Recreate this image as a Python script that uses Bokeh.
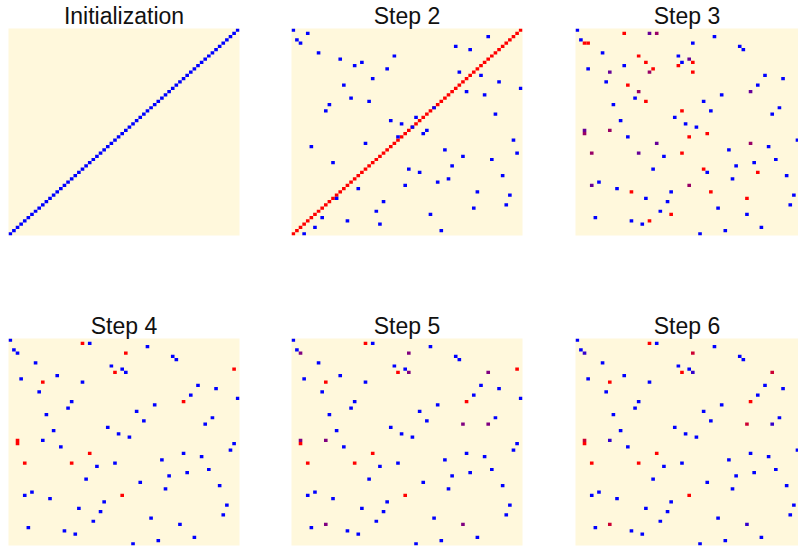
from bokeh.plotting import figure
from bokeh.models import Range1d
from bokeh.layouts import column, row
from bokeh.embed import file_html
from bokeh.resources import INLINE

N = 64
BG = "#FFF8DC"
BLUE = "#0000FF"
RED = "#FF0000"
MIX3_B = "#660099"
MIX3_R = "#990066"
MIX5 = "#800080"
MIX6_B = "#3300CC"
MIX6_R = "#CC0033"

TITLES = ["Initialization", "Step 2", "Step 3", "Step 4", "Step 5", "Step 6"]

# row index counted from the top of each panel, column index from the left
ALL_ROWS = [0, 1, 2, 3, 4, 5, 6, 7, 8, 9, 10, 11, 12, 13, 14, 15, 16, 17, 18, 19, 20, 21,
            22, 23, 24, 25, 26, 27, 28, 29, 30, 31, 32, 33, 34, 35, 36, 37, 38, 39, 40, 41,
            42, 43, 44, 45, 46, 47, 48, 49, 50, 51, 52, 53, 54, 55, 56, 57, 58, 59, 60, 61,
            62, 63]

INIT_BLUE_COLS = [63, 62, 61, 60, 59, 58, 57, 56, 55, 54, 53, 52, 51, 50, 49, 48, 47, 46,
                  45, 44, 43, 42, 41, 40, 39, 38, 37, 36, 35, 34, 33, 32, 31, 30, 29, 28,
                  27, 26, 25, 24, 23, 22, 21, 20, 19, 18, 17, 16, 15, 14, 13, 12, 11, 10,
                  9, 8, 7, 6, 5, 4, 3, 2, 1, 0]

STEP2_RED_COLS = [63, 62, 61, 60, 59, 58, 57, 56, 55, 54, 53, 52, 51, 50, 49, 48, 47, 46,
                  45, 44, 43, 42, 41, 40, 39, 38, 37, 36, 35, 34, 33, 32, 31, 30, 29, 28,
                  27, 26, 25, 24, 23, 22, 21, 20, 19, 18, 17, 16, 15, 14, 13, 12, 11, 10,
                  9, 8, 7, 6, 5, 4, 3, 2, 1, 0]
STEP2_BLUE_COLS = [0, 4, 54, 1, 2, 45, 49, 7, 28, 13, 19, 17, 26, 46, 52, 22, 57, 14, 63,
                   48, 53, 16, 21, 10, 39, 9, 56, 34, 27, 30, 33, 37, 36, 29, 61, 20, 5, 42,
                   62, 47, 55, 11, 44, 32, 35, 58, 43, 40, 31, 18, 51, 60, 12, 25, 59, 50,
                   23, 38, 8, 15, 24, 6, 41, 3]

STEP3_BLUE_ROWS = [0, 2, 3, 4, 5, 6, 7, 8, 10, 11, 12, 14, 15, 16, 17, 18, 20, 21, 22, 23,
                   24, 25, 26, 27, 28, 29, 30, 32, 33, 34, 36, 37, 39, 40, 41, 42, 43, 44,
                   45, 46, 47, 49, 50, 51, 52, 53, 54, 55, 56, 57, 58, 59, 60, 61, 62, 63]
STEP3_BLUE_COLS = [0, 38, 1, 32, 45, 46, 7, 28, 29, 13, 3, 52, 57, 8, 50, 63, 40, 16, 35,
                   10, 56, 37, 54, 27, 12, 30, 33, 62, 14, 61, 53, 42, 24, 55, 49, 44, 21,
                   36, 58, 43, 6, 11, 26, 60, 19, 25, 59, 39, 23, 47, 5, 15, 18, 51, 41, 34]
STEP3_RED_ROWS = [1, 4, 4, 8, 10, 10, 11, 12, 13, 17, 22, 25, 32, 33, 38, 43, 44, 50, 50,
                  52, 57, 59]
STEP3_RED_COLS = [13, 2, 3, 17, 19, 32, 28, 21, 32, 14, 19, 29, 36, 31, 29, 35, 50, 15, 37,
                  47, 26, 20]
STEP3_MIXB_ROWS = [1, 9, 13, 19, 31, 35, 38, 48]
STEP3_MIXB_COLS = [20, 31, 9, 48, 2, 22, 17, 4]
STEP3_MIXR_ROWS = [1, 13, 19, 31, 32, 35, 38, 48]
STEP3_MIXR_COLS = [22, 20, 17, 9, 2, 48, 4, 31]

STEP4_BLUE_COLS = [0, 22, 38, 1, 2, 45, 46, 7, 28, 31, 32, 13, 3, 20, 52, 57, 8, 50, 63,
                   17, 40, 16, 35, 10, 56, 37, 54, 27, 12, 30, 33, 9, 62, 14, 61, 48, 53,
                   42, 29, 24, 55, 49, 44, 21, 36, 58, 43, 6, 4, 11, 26, 60, 19, 25, 59, 39,
                   23, 47, 5, 15, 18, 51, 41, 34]
STEP4_RED_ROWS = [1, 4, 9, 10, 13, 19, 31, 32, 35, 38, 38, 48]
STEP4_RED_COLS = [20, 32, 62, 29, 9, 48, 2, 2, 22, 4, 17, 31]

STEP5_BLUE_ROWS = [0, 1, 2, 3, 5, 6, 7, 8, 9, 11, 12, 13, 14, 15, 16, 17, 18, 19, 20, 21,
                   22, 23, 24, 25, 27, 28, 29, 30, 32, 33, 34, 35, 36, 37, 38, 39, 40, 41,
                   42, 43, 44, 45, 46, 47, 48, 49, 50, 51, 52, 53, 54, 55, 56, 58, 59, 60,
                   61, 62, 63]
STEP5_BLUE_COLS = [0, 22, 38, 1, 45, 46, 7, 28, 31, 13, 3, 20, 52, 57, 8, 50, 63, 17, 40,
                   16, 35, 10, 56, 37, 27, 12, 30, 33, 62, 14, 61, 48, 53, 42, 29, 24, 55,
                   49, 44, 21, 36, 58, 43, 6, 4, 11, 26, 60, 19, 25, 59, 39, 23, 5, 15, 18,
                   51, 41, 34]
STEP5_RED_ROWS = [1, 9, 10, 13, 19, 32, 35, 38, 38, 48]
STEP5_RED_COLS = [20, 62, 29, 9, 48, 2, 22, 4, 17, 31]
STEP5_MIX_ROWS = [4, 4, 10, 10, 26, 26, 31, 31, 57, 57]
STEP5_MIX_COLS = [2, 32, 32, 54, 47, 54, 2, 9, 9, 47]

STEP6_BLUE_ROWS = [0, 1, 2, 3, 5, 6, 7, 8, 9, 11, 12, 13, 14, 15, 16, 17, 18, 19, 20, 21,
                   22, 23, 24, 25, 27, 28, 29, 30, 32, 33, 34, 35, 36, 37, 38, 39, 40, 41,
                   42, 43, 44, 45, 46, 47, 48, 49, 50, 51, 52, 53, 54, 55, 56, 58, 59, 60,
                   61, 62, 63]
STEP6_BLUE_COLS = [0, 22, 38, 1, 45, 46, 7, 28, 31, 13, 3, 20, 52, 57, 8, 50, 63, 17, 40,
                   16, 35, 10, 56, 37, 27, 12, 30, 33, 62, 14, 61, 48, 53, 42, 29, 24, 55,
                   49, 44, 21, 36, 58, 43, 6, 4, 11, 26, 60, 19, 25, 59, 39, 23, 5, 15, 18,
                   51, 41, 34]
STEP6_RED_ROWS = [1, 9, 10, 13, 19, 32, 35, 38, 38, 48]
STEP6_RED_COLS = [20, 62, 29, 9, 48, 2, 22, 4, 17, 31]
STEP6_MIXB_ROWS = [4, 10, 26, 31, 57]
STEP6_MIXB_COLS = [2, 32, 54, 9, 47]
STEP6_MIXR_ROWS = [4, 10, 26, 31, 57]
STEP6_MIXR_COLS = [32, 54, 47, 2, 9]

LAYERS = [
    [(ALL_ROWS, INIT_BLUE_COLS, BLUE)],
    [(ALL_ROWS, STEP2_RED_COLS, RED), (ALL_ROWS, STEP2_BLUE_COLS, BLUE)],
    [(STEP3_RED_ROWS, STEP3_RED_COLS, RED), (STEP3_MIXB_ROWS, STEP3_MIXB_COLS, MIX3_B),
     (STEP3_MIXR_ROWS, STEP3_MIXR_COLS, MIX3_R), (STEP3_BLUE_ROWS, STEP3_BLUE_COLS, BLUE)],
    [(STEP4_RED_ROWS, STEP4_RED_COLS, RED), (ALL_ROWS, STEP4_BLUE_COLS, BLUE)],
    [(STEP5_RED_ROWS, STEP5_RED_COLS, RED), (STEP5_MIX_ROWS, STEP5_MIX_COLS, MIX5),
     (STEP5_BLUE_ROWS, STEP5_BLUE_COLS, BLUE)],
    [(STEP6_RED_ROWS, STEP6_RED_COLS, RED), (STEP6_MIXB_ROWS, STEP6_MIXB_COLS, MIX6_B),
     (STEP6_MIXR_ROWS, STEP6_MIXR_COLS, MIX6_R), (STEP6_BLUE_ROWS, STEP6_BLUE_COLS, BLUE)],
]

FRAME_W = 231
FRAME_H = 207
COL_LEFT = [8, 0, 0]
COL_W = [291, 284, 223]
ROW_H = [310, 236]
TOP = 28


def panel(title, layers, col, rw):
    width = COL_W[col]
    left = COL_LEFT[col]
    frame_w = min(FRAME_W, width - left)
    right = width - left - frame_w
    bottom = ROW_H[rw] - TOP - FRAME_H
    visible = N * frame_w / FRAME_W
    p = figure(width=width, height=ROW_H[rw],
               x_range=Range1d(-0.5, -0.5 + visible), y_range=Range1d(N - 0.5, -0.5),
               output_backend="svg", toolbar_location=None,
               x_axis_location=None, y_axis_location=None,
               min_border_left=left, min_border_right=right,
               min_border_top=TOP, min_border_bottom=bottom,
               title=title)
    p.title.align = "center"
    p.title.vertical_align = "bottom"
    p.title.standoff = 0
    p.title.text_font = "Liberation Sans"
    p.title.text_font_size = "23px"
    p.title.text_font_style = "normal"
    p.title.text_color = "#111111"
    if frame_w < FRAME_W:
        p.title.offset = (FRAME_W - frame_w) / 2
    p.grid.visible = False
    p.outline_line_color = None
    p.background_fill_color = BG
    p.border_fill_color = "white"
    for rows, cols, color in layers:
        p.rect(x=cols, y=rows, width=1, height=1, fill_color=color, line_color=None)
    return p


figs = [panel(TITLES[i], LAYERS[i], i % 3, i // 3) for i in range(6)]
layout = column(row(*figs[:3]), row(*figs[3:]))

open("out.html", "w").write(file_html(layout, INLINE))
